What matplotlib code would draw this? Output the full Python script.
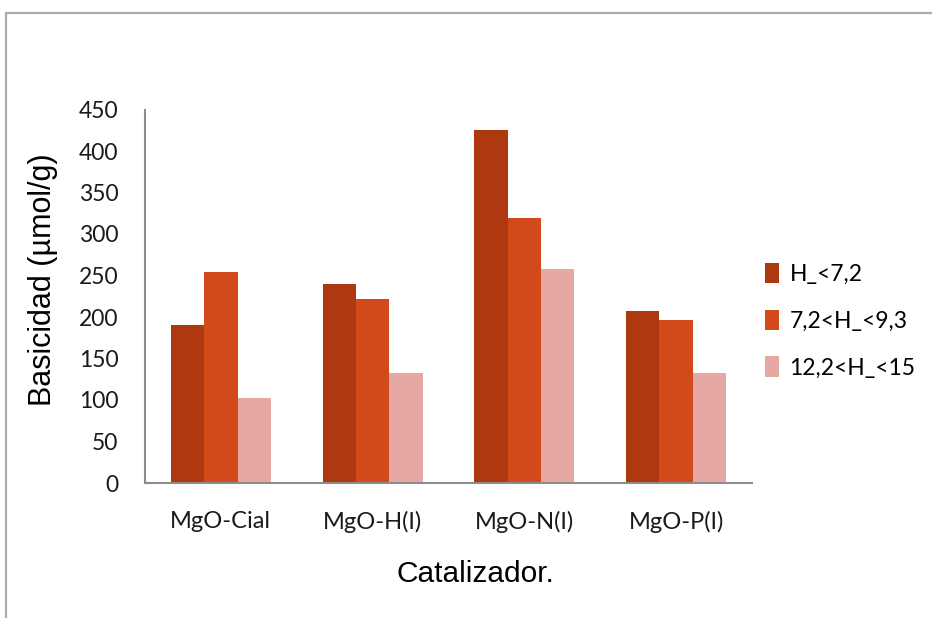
import matplotlib
matplotlib.use("Agg")
import matplotlib.pyplot as plt
import numpy as np
from matplotlib.patches import Rectangle

# Data
catalizadores = ["MgO-Cial", "MgO-H(I)", "MgO-N(I)", "MgO-P(I)"]
series_labels = ["H_<7,2", "7,2<H_<9,3", "12,2<H_<15"]
h_lt_72 = [190, 240, 425, 207]
h_72_93 = [254, 222, 319, 196]
h_122_15 = [102, 133, 258, 133]
y_ticks = [0, 50, 100, 150, 200, 250, 300, 350, 400, 450]

colors = ["#AE3911", "#D24A19", "#E5A8A2"]
tick_font = ["Lato", "DejaVu Sans"]
label_font = ["Liberation Sans", "DejaVu Sans"]

fig = plt.figure(figsize=(9.32, 6.18), dpi=100)
fig.patch.set_facecolor("white")

# outer chart frame
fig.patches.append(Rectangle((6 / 932, -0.1), 1.2, 1 - 13 / 618 + 0.1,
                             transform=fig.transFigure, fill=False,
                             edgecolor="#ABABAB", linewidth=1.6))

ax = fig.add_axes([145 / 932, 1 - 483 / 618, (752 - 145) / 932, (483 - 109.5) / 618])

x = np.arange(len(catalizadores))
group_w = 0.66
bw = group_w / 3
for i, (vals, lab) in enumerate(zip([h_lt_72, h_72_93, h_122_15], series_labels)):
    ax.bar(x - group_w / 2 + bw * (i + 0.5), vals, width=bw, color=colors[i],
           label=lab, edgecolor="none")

ax.set_xlim(-0.5, len(catalizadores) - 0.5)
ax.set_ylim(0, 450)
ax.set_yticks(y_ticks)
ax.set_xticks(x)
ax.set_xticklabels(catalizadores)

for s in ["top", "right"]:
    ax.spines[s].set_visible(False)
for s in ["left", "bottom"]:
    ax.spines[s].set_color("#8C8C8C")
    ax.spines[s].set_linewidth(1.5)

ax.tick_params(axis="both", length=0)
ax.tick_params(axis="y", pad=19)
ax.tick_params(axis="x", pad=20)
for t in ax.get_yticklabels():
    t.set_fontfamily(tick_font)
    t.set_fontsize(16.5)
    t.set_color("#1A1A1A")
for t in ax.get_xticklabels():
    t.set_fontfamily(tick_font)
    t.set_fontsize(17)
    t.set_color("#1A1A1A")

ax.set_ylabel("Basicidad (µmol/g)", fontsize=22, family=label_font)
ax.yaxis.set_label_coords(-0.143, 0.545)
ax.set_xlabel("Catalizador.", fontsize=21.5, family=label_font)
ax.xaxis.set_label_coords(0.545, -0.205)

leg = ax.legend(loc="upper left", bbox_to_anchor=(0.988, 0.645), frameon=False,
                handlelength=0.6, handleheight=1.0, handletextpad=0.45,
                labelspacing=1.08, prop={"family": tick_font, "size": 16.5})

fig.savefig("out.png", dpi=100, facecolor="white")
